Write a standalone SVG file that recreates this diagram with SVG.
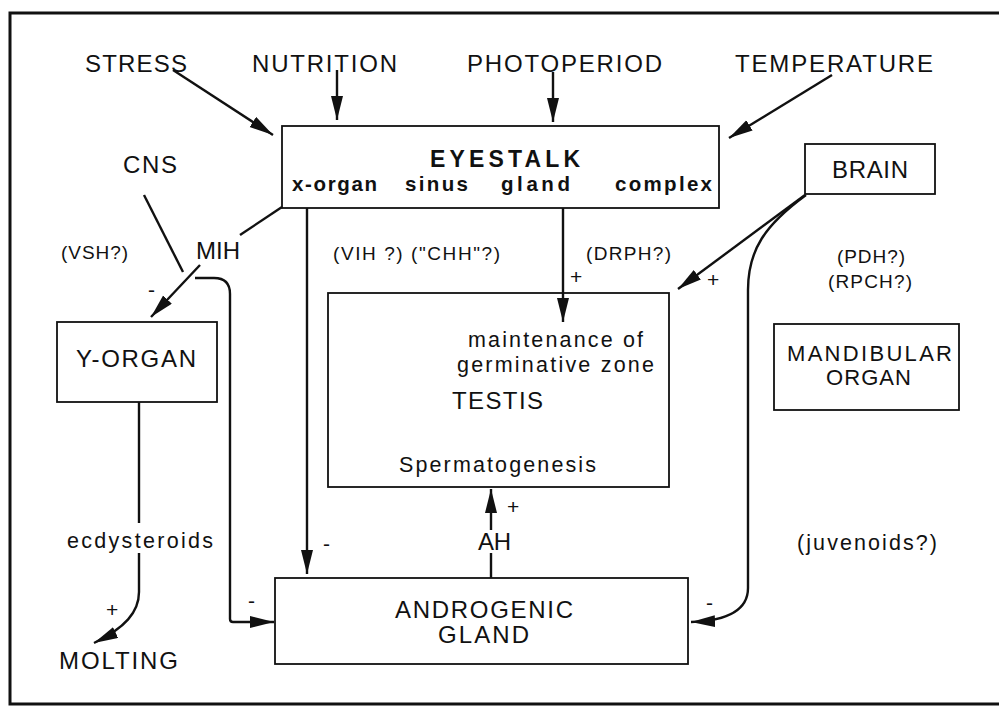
<svg xmlns="http://www.w3.org/2000/svg" width="999" height="706" viewBox="0 0 999 706">
<style>
text{font-family:"Liberation Sans",Arial,sans-serif;fill:#111}
.c{font-size:24px}
.s{font-size:19px}
.l{font-size:21.5px}
.b{font-weight:bold}
.box{fill:none;stroke:#111;stroke-width:1.8}
.ln{fill:none;stroke:#111;stroke-width:2.4}
.sign{font-size:21px}
</style>
<defs>
<marker id="ah" markerUnits="userSpaceOnUse" markerWidth="26" markerHeight="14" refX="24" refY="6" orient="auto">
<path d="M0,0 L24,6 L0,12 z" fill="#111"/>
</marker>
</defs>
<rect width="999" height="706" fill="#fff"/>
<path d="M999,13 H10 V704 H999" fill="none" stroke="#111" stroke-width="3"/>

<g id="stress"><text class="c" x="85" y="72" textLength="102" lengthAdjust="spacing">STRESS</text></g>
<g id="nutrition"><text class="c" x="252" y="72" textLength="145" lengthAdjust="spacing">NUTRITION</text></g>
<g id="photoperiod"><text class="c" x="467" y="72" textLength="195" lengthAdjust="spacing">PHOTOPERIOD</text></g>
<g id="temperature"><text class="c" x="735" y="72" textLength="198" lengthAdjust="spacing">TEMPERATURE</text></g>

<g id="eyestalk">
<rect class="box" x="282" y="126" width="437" height="82"/>
<text class="b" style="font-size:23px" x="430" y="167" textLength="150" lengthAdjust="spacing">EYESTALK</text>
<text class="b" style="font-size:20.5px" x="292" y="191" textLength="85" lengthAdjust="spacing">x-organ</text>
<text class="b" style="font-size:20.5px" x="405" y="191" textLength="63" lengthAdjust="spacing">sinus</text>
<text class="b" style="font-size:20.5px" x="501" y="191" textLength="69" lengthAdjust="spacing">gland</text>
<text class="b" style="font-size:20.5px" x="615" y="191" textLength="97" lengthAdjust="spacing">complex</text>
</g>

<g id="brain">
<rect class="box" x="805" y="144" width="130" height="50"/>
<text class="c" x="832" y="178" textLength="76" lengthAdjust="spacing">BRAIN</text>
</g>

<g id="cns"><text class="c" x="123" y="173" textLength="54" lengthAdjust="spacing">CNS</text></g>
<g id="mih"><text class="c" x="196" y="259" textLength="44" lengthAdjust="spacing">MIH</text></g>
<g id="vsh"><text class="s" x="61" y="259" textLength="67" lengthAdjust="spacing">(VSH?)</text></g>
<g id="vih"><text class="s" x="333" y="260" textLength="167" lengthAdjust="spacing">(VIH ?) ("CHH"?)</text></g>
<g id="drph"><text class="s" x="586" y="260" textLength="85" lengthAdjust="spacing">(DRPH?)</text></g>
<g id="pdh">
<text class="s" x="837" y="263" textLength="68" lengthAdjust="spacing">(PDH?)</text>
<text class="s" x="828" y="288" textLength="84" lengthAdjust="spacing">(RPCH?)</text>
</g>

<g id="y-organ">
<rect class="box" x="57" y="322" width="160" height="80"/>
<text class="c" x="76" y="367" textLength="120" lengthAdjust="spacing">Y-ORGAN</text>
</g>

<g id="testis">
<rect class="box" x="328" y="293" width="341" height="194"/>
<text class="l" x="468" y="347" textLength="175" lengthAdjust="spacing">maintenance of</text>
<text class="l" x="457" y="372" textLength="197" lengthAdjust="spacing">germinative zone</text>
<text class="c" x="452" y="409" textLength="91" lengthAdjust="spacing">TESTIS</text>
<text class="l" x="399" y="472" textLength="197" lengthAdjust="spacing">Spermatogenesis</text>
</g>

<g id="mandibular-organ">
<rect class="box" x="774" y="324" width="185" height="86"/>
<text class="c" style="font-size:22px" x="787" y="361" textLength="165" lengthAdjust="spacing">MANDIBULAR</text>
<text class="c" style="font-size:22px" x="826" y="385" textLength="85" lengthAdjust="spacing">ORGAN</text>
</g>

<g id="ecdysteroids"><text class="l" x="67" y="548" textLength="146" lengthAdjust="spacing">ecdysteroids</text></g>
<g id="ah-label"><text class="c" x="478" y="550" textLength="33" lengthAdjust="spacing">AH</text></g>
<g id="juvenoids"><text class="l" x="797" y="550" textLength="140" lengthAdjust="spacing">(juvenoids?)</text></g>

<g id="androgenic-gland">
<rect class="box" x="275" y="578" width="413" height="86"/>
<text class="c" x="395" y="618" textLength="178" lengthAdjust="spacing">ANDROGENIC</text>
<text class="c" x="438" y="643" textLength="91" lengthAdjust="spacing">GLAND</text>
</g>

<g id="molting"><text class="c" x="59" y="669" textLength="119" lengthAdjust="spacing">MOLTING</text></g>

<g id="connectors">
<line class="ln" x1="173" y1="70" x2="273" y2="135" marker-end="url(#ah)"/>
<line class="ln" x1="337" y1="70" x2="337" y2="120" marker-end="url(#ah)"/>
<line class="ln" x1="553" y1="72" x2="553" y2="122" marker-end="url(#ah)"/>
<line class="ln" x1="832" y1="75" x2="729" y2="138" marker-end="url(#ah)"/>
<line class="ln" x1="144" y1="195" x2="183" y2="272"/>
<line class="ln" x1="282" y1="207" x2="240" y2="235"/>
<line class="ln" x1="200" y1="265" x2="151" y2="317" marker-end="url(#ah)"/>
<path class="ln" d="M195,278 H214 Q230,278 230,294 V619 Q230,622 233,622 H274" marker-end="url(#ah)"/>
<line class="ln" x1="139" y1="402" x2="139" y2="523"/>
<path class="ln" d="M139,553 V592 C139,612 125,628 94,643" marker-end="url(#ah)"/>
<line class="ln" x1="307" y1="208" x2="307" y2="574" marker-end="url(#ah)"/>
<line class="ln" x1="563" y1="208" x2="563" y2="322" marker-end="url(#ah)"/>
<line class="ln" x1="805" y1="195" x2="678" y2="289" marker-end="url(#ah)"/>
<path class="ln" d="M806,195 C765,225 748,250 748,290 V588 Q748,620 691,622" marker-end="url(#ah)"/>
<line class="ln" x1="491" y1="578" x2="491" y2="553"/>
<line class="ln" x1="491" y1="530" x2="491" y2="489" marker-end="url(#ah)"/>
<text class="sign" x="570" y="284">+</text>
<text class="sign" x="707" y="287">+</text>
<text class="sign" x="507" y="514">+</text>
<text class="sign" x="106" y="617">+</text>
<text class="sign" x="148" y="297">-</text>
<text class="sign" x="323" y="551">-</text>
<text class="sign" x="248" y="608">-</text>
<text class="sign" x="706" y="610">-</text>
</g>
</svg>
